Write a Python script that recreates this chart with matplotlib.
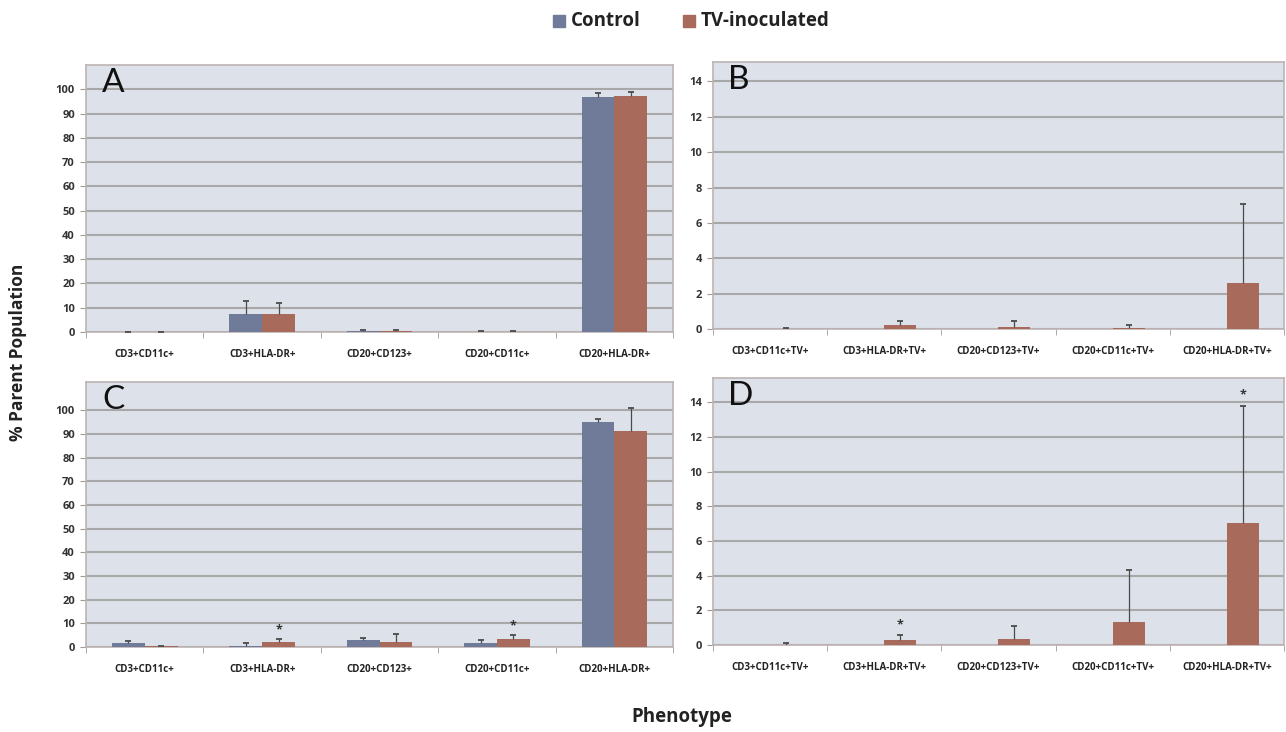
import numpy as np
import matplotlib
matplotlib.use("Agg")
import matplotlib.pyplot as plt
from matplotlib.patches import Rectangle

plt.rcParams['font.family'] = ['Open Sans', 'DejaVu Sans']

# categorias
cats_ab = ['CD3+CD11c+', 'CD3+HLA-DR+', 'CD20+CD123+', 'CD20+CD11c+', 'CD20+HLA-DR+']
cats_tv = ['CD3+CD11c+TV+', 'CD3+HLA-DR+TV+', 'CD20+CD123+TV+', 'CD20+CD11c+TV+', 'CD20+HLA-DR+TV+']

# panel A
ctrl_a = [0.05, 7.5, 0.4, 0.2, 97.0]
ctrl_a_err = [0.05, 5.2, 0.5, 0.4, 1.4]
tv_a = [0.05, 7.4, 0.3, 0.2, 97.3]
tv_a_err = [0.1, 4.7, 0.5, 0.4, 1.4]

# panel B
ctrl_b = [0, 0, 0, 0, 0]
ctrl_b_err = [0, 0, 0, 0, 0]
tv_b = [0.02, 0.2, 0.12, 0.08, 2.6]
tv_b_err = [0.06, 0.25, 0.33, 0.17, 4.45]

# panel C
ctrl_c = [1.5, 0.3, 2.8, 1.8, 95.2]
ctrl_c_err = [1.2, 1.2, 1.1, 1.2, 1.0]
tv_c = [0.4, 2.0, 2.2, 3.4, 91.4]
tv_c_err = [0.2, 1.2, 3.3, 1.6, 9.8]
stars_c = [1, 3]

# panel D
ctrl_d = [0, 0, 0, 0, 0]
ctrl_d_err = [0, 0, 0, 0, 0]
tv_d = [0.02, 0.3, 0.35, 1.3, 7.05]
tv_d_err = [0.08, 0.25, 0.75, 3.0, 6.75]
stars_d = [1, 4]

c_ctrl = '#6f7b99'
c_tv = '#a86a5a'
bg = '#dde2ea'
gridc = '#a8a8a8'

fig = plt.figure(figsize=(12.86, 7.32), dpi=100)

def errs(ax, xs, vals, err):
    vals = np.array(vals, dtype=float)
    err = np.array(err, dtype=float)
    keep = err > 0
    ax.vlines(xs[keep], vals[keep], vals[keep] + err[keep], color='#4a4a4a', lw=0.9, zorder=4)
    ax.plot(xs[keep], vals[keep] + err[keep], ls='none', marker='_', ms=5, mew=1.3,
            color='#4a4a4a', zorder=4)

def panel(rect, cats, ctrl, ctrl_err, tv, tv_err, ymax, yticks, letter, stars=(), star_off=0):
    ax = fig.add_axes(rect)
    ax.set_facecolor(bg)
    x = np.arange(len(cats))
    w = 0.28
    ax.bar(x - w, ctrl, w, align='edge', color=c_ctrl, zorder=3)
    ax.bar(x, tv, w, align='edge', color=c_tv, zorder=3)
    errs(ax, x - w / 2, ctrl, ctrl_err)
    errs(ax, x + w / 2, tv, tv_err)
    for s in stars:
        ax.text(x[s] + w / 2, tv[s] + tv_err[s] + star_off, '*', ha='center', va='bottom',
                fontsize=9, fontweight='bold', color='#333333', zorder=5)
    ax.set_xlim(-0.5, len(cats) - 0.5)
    ax.set_ylim(0, ymax)
    ax.set_yticks(yticks)
    ax.set_yticklabels([str(t) for t in yticks], fontsize=8, fontweight='bold', color='#333333')
    ax.yaxis.grid(True, color=gridc, lw=1.5, zorder=1)
    ax.set_axisbelow(True)
    ax.set_xticks(x)
    ax.set_xticklabels(cats, fontsize=7, fontweight='bold', color='#222222')
    ax.set_xticks(np.arange(len(cats) + 1) - 0.5, minor=True)
    ax.tick_params(axis='x', which='major', length=0, pad=12)
    ax.tick_params(axis='x', which='minor', length=4, color='#a09a9a', direction='out')
    ax.tick_params(axis='y', length=4, color='#a09a9a', pad=4)
    for sp in ax.spines.values():
        sp.set_color('#bdb3b3')
        sp.set_linewidth(1.2)
    ax.text(0.027, 0.9, letter, transform=ax.transAxes, fontsize=24,
            fontfamily='Lato', color='#111111', va='baseline', ha='left', zorder=6)
    return ax

panel([0.0669, 0.5464, 0.4565, 0.3648], cats_ab, ctrl_a, ctrl_a_err, tv_a, tv_a_err,
      110, list(range(0, 101, 10)), 'A')
panel([0.5544, 0.5505, 0.444, 0.3648], cats_tv, ctrl_b, ctrl_b_err, tv_b, tv_b_err,
      15.1, list(range(0, 15, 2)), 'B')
panel([0.0669, 0.1161, 0.4565, 0.362], cats_ab, ctrl_c, ctrl_c_err, tv_c, tv_c_err,
      112, list(range(0, 101, 10)), 'C', stars_c, 1.3)
panel([0.5544, 0.1189, 0.444, 0.3647], cats_tv, ctrl_d, ctrl_d_err, tv_d, tv_d_err,
      15.4, list(range(0, 15, 2)), 'D', stars_d, 0.25)

# leyenda arriba
fig.patches.append(Rectangle((553 / 1286, 1 - 27 / 732), 12 / 1286, 12 / 732,
                             transform=fig.transFigure, color=c_ctrl))
fig.text(571 / 1286, 1 - 21 / 732, 'Control', fontsize=13.5, fontweight='bold', va='center', ha='left', color='#222222')
fig.patches.append(Rectangle((683 / 1286, 1 - 27 / 732), 12 / 1286, 12 / 732,
                             transform=fig.transFigure, color=c_tv))
fig.text(701 / 1286, 1 - 21 / 732, 'TV-inoculated', fontsize=13.5, fontweight='bold', va='center', ha='left', color='#222222')

fig.text(18 / 1286, 1 - 352 / 732, '% Parent Population', rotation=90, fontsize=12.5,
         fontweight='bold', va='center', ha='center', color='#222222')
fig.text(682 / 1286, 1 - 717 / 732, 'Phenotype', fontsize=13.5, fontweight='bold',
         va='center', ha='center', color='#222222')

fig.savefig('out.png', dpi=100, facecolor='white')
